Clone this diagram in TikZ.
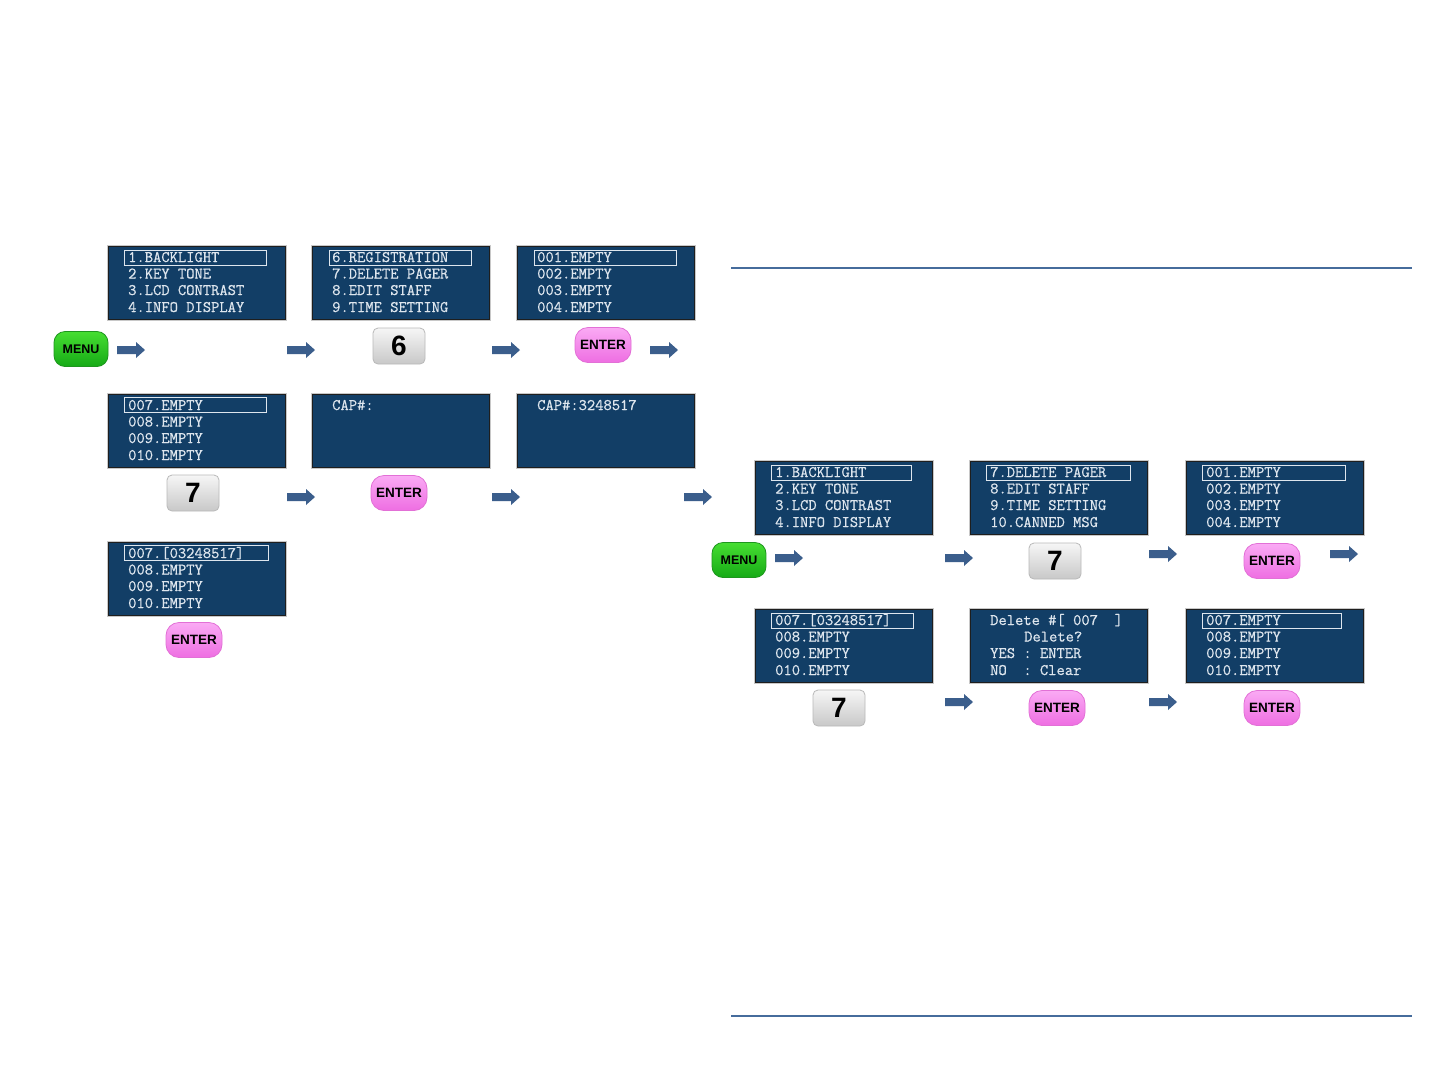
\documentclass[tikz,border=0pt]{standalone}
\usepackage{fontspec}
\newfontfamily\btnfont{Liberation Sans}
\newfontfamily\lcdfont{Latin Modern Mono}[FakeBold=0.6]
\definecolor{lcdbg}{RGB}{18,62,102}
\definecolor{lcdtx}{RGB}{222,230,238}
\definecolor{arrowblue}{RGB}{59,94,140}
\definecolor{rulecol}{RGB}{70,108,156}
\definecolor{menutop}{RGB}{70,222,50}
\definecolor{menubot}{RGB}{22,170,22}
\definecolor{menuedge}{RGB}{30,150,30}
\definecolor{entertop}{RGB}{250,170,244}
\definecolor{enterbot}{RGB}{238,110,226}
\definecolor{enteredge}{RGB}{226,112,214}
\definecolor{keytop}{RGB}{246,246,246}
\definecolor{keybot}{RGB}{200,200,200}
\definecolor{keyedge}{RGB}{185,185,185}
\tikzset{
  screen/.style={draw={rgb,255:red,30;green,30;blue,30}, line width=1.3pt, fill=lcdbg,
    minimum width=177pt, minimum height=73pt, anchor=north west, inner sep=0pt},
  screenshade/.style={draw={rgb,255:red,200;green,200;blue,200}, line width=0.8pt,
    minimum width=179pt, minimum height=75pt, anchor=north west, inner sep=0pt},
  lcdline/.style={anchor=base west, inner sep=0pt, text=lcdtx,
    font=\lcdfont\fontsize{16.1}{17}\selectfont},
  selbox/.style={draw=lcdtx, line width=1.4pt, minimum width=142pt, minimum height=15pt,
    anchor=north west, inner sep=0pt},
  menubtn/.style={rounded corners=11pt, minimum width=54pt, minimum height=35pt,
    top color=menutop, bottom color=menubot, draw=menuedge, line width=0.8pt,
    font=\btnfont\bfseries\fontsize{12.5}{13}\selectfont, text=black, inner sep=0pt},
  enterbtn/.style={rounded corners=13pt, minimum width=56pt, minimum height=35pt,
    top color=entertop, bottom color=enterbot, draw=enteredge, line width=0.8pt,
    font=\btnfont\bfseries\fontsize{13.5}{14}\selectfont, text=black, inner sep=0pt},
  keybtn/.style={rounded corners=5pt, minimum width=52pt, minimum height=36pt,
    top color=keytop, bottom color=keybot, draw=keyedge, line width=0.8pt,
    font=\btnfont\bfseries\fontsize{28}{30}\selectfont, text=black, inner sep=0pt},
  blockarrow/.pic={
    \fill[arrowblue] (0,-4) -- (19,-4) -- (19,-8) -- (28,0) -- (19,8) -- (19,4) -- (0,4) -- cycle;
    \coordinate (-tip) at (28,0);
  },
  hrule/.style={draw=rulecol, line width=1.3pt}
}
% name, x, y, line1..line4
\newcommand\lcdpanel[7]{%
  \node[screenshade] (#1-shade) at (#2-1,#3-1) {};
  \node[screen] (#1) at (#2,#3) {};
  \node[lcdline] (#1-a) at (#2+20,#3+16) {#4};
  \node[lcdline] (#1-b) at (#2+20,#3+32.5) {#5};
  \node[lcdline] (#1-c) at (#2+20,#3+49) {#6};
  \node[lcdline] (#1-d) at (#2+20,#3+66) {#7};
}
\begin{document}
\begin{tikzpicture}[x=1pt,y=-1pt]
\useasboundingbox[fill=white] (0,0) rectangle (1440,1080);

% horizontal rules
\coordinate (r1a) at (731,268); \coordinate (r1b) at (1412,268);
\coordinate (r2a) at (731,1016); \coordinate (r2b) at (1412,1016);
\draw[hrule] (r1a) -- (r1b);
\draw[hrule] (r2a) -- (r2b);

% ---------- left part ----------
\lcdpanel{L1a}{108}{246}{1.BACKLIGHT}{2.KEY TONE}{3.LCD CONTRAST}{4.INFO DISPLAY}
\node[selbox] (L1a-sel) at (124,250) {};
\lcdpanel{L1b}{312}{246}{6.REGISTRATION}{7.DELETE PAGER}{8.EDIT STAFF}{9.TIME SETTING}
\node[selbox] (L1b-sel) at (329,250) {};
\lcdpanel{L1c}{517}{246}{001.EMPTY}{002.EMPTY}{003.EMPTY}{004.EMPTY}
\node[selbox] (L1c-sel) at (534,250) {};

\lcdpanel{L2a}{108}{394}{007.EMPTY}{008.EMPTY}{009.EMPTY}{010.EMPTY}
\node[selbox] (L2a-sel) at (124,397) {};
\lcdpanel{L2b}{312}{394}{CAP\#:}{}{}{}
\lcdpanel{L2c}{517}{394}{CAP\#:3248517}{}{}{}

\lcdpanel{L3a}{108}{542}{007.[03248517]}{008.EMPTY}{009.EMPTY}{010.EMPTY}
\node[selbox, minimum width=144pt] (L3a-sel) at (124,545) {};

\node[menubtn] (menuL) at (81,349) {MENU};
\node[keybtn] (key6) at (399,346) {6};
\node[enterbtn] (enterL1) at (603,345) {ENTER};
\node[keybtn] (key7L) at (193,493) {7};
\node[enterbtn] (enterL2) at (399,493) {ENTER};
\node[enterbtn] (enterL3) at (194,640) {ENTER};

\pic (aL1) at (117,350) {blockarrow};
\pic (aL2) at (287,350) {blockarrow};
\pic (aL3) at (492,350) {blockarrow};
\pic (aL4) at (650,350) {blockarrow};
\pic (aL5) at (287,497) {blockarrow};
\pic (aL6) at (492,497) {blockarrow};
\pic (aL7) at (684,497) {blockarrow};

% ---------- right part ----------
\lcdpanel{R1a}{755}{461}{1.BACKLIGHT}{2.KEY TONE}{3.LCD CONTRAST}{4.INFO DISPLAY}
\node[selbox, minimum width=140pt] (R1a-sel) at (771,465) {};
\lcdpanel{R1b}{970}{461}{7.DELETE PAGER}{8.EDIT STAFF}{9.TIME SETTING}{10.CANNED MSG}
\node[selbox, minimum width=144pt] (R1b-sel) at (986,465) {};
\lcdpanel{R1c}{1186}{461}{001.EMPTY}{002.EMPTY}{003.EMPTY}{004.EMPTY}
\node[selbox, minimum width=143pt] (R1c-sel) at (1202,465) {};

\lcdpanel{R2a}{755}{609}{007.[03248517]}{008.EMPTY}{009.EMPTY}{010.EMPTY}
\node[selbox] (R2a-sel) at (771,613) {};
\lcdpanel{R2b}{970}{609}{Delete~\#[~007~~]}{\hspace*{34pt}Delete?}{YES~:~ENTER}{NO~~:~Clear}
\lcdpanel{R2c}{1186}{609}{007.EMPTY}{008.EMPTY}{009.EMPTY}{010.EMPTY}
\node[selbox, minimum width=139pt] (R2c-sel) at (1202,613) {};

\node[menubtn] (menuR) at (739,560) {MENU};
\node[keybtn] (key7R1) at (1055,561) {7};
\node[enterbtn] (enterR1) at (1272,561) {ENTER};
\node[keybtn] (key7R2) at (839,708) {7};
\node[enterbtn] (enterR2) at (1057,708) {ENTER};
\node[enterbtn] (enterR3) at (1272,708) {ENTER};

\pic (aR1) at (775,558) {blockarrow};
\pic (aR2) at (945,558) {blockarrow};
\pic (aR3) at (1149,554) {blockarrow};
\pic (aR4) at (1330,554) {blockarrow};
\pic (aR5) at (945,702) {blockarrow};
\pic (aR6) at (1149,702) {blockarrow};
\end{tikzpicture}
\end{document}
